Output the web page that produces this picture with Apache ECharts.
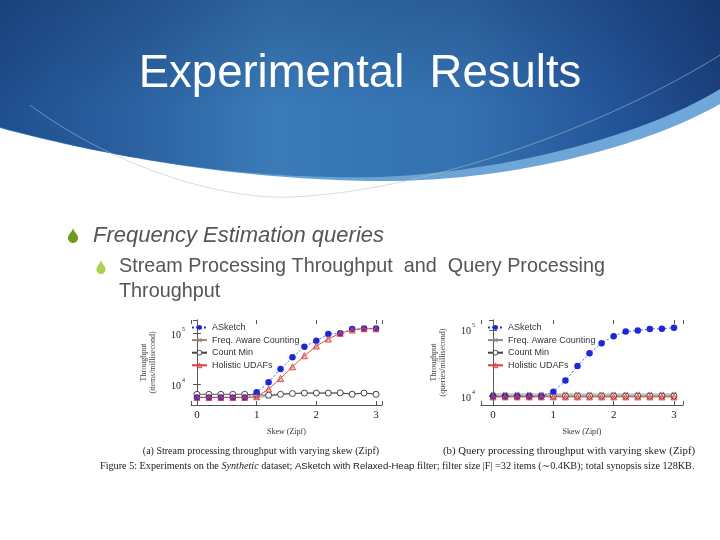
<!DOCTYPE html>
<html>
<head>
<meta charset="utf-8">
<script src="https://cdn.jsdelivr.net/npm/echarts@6/dist/echarts.min.js"></script>
<style>html,body{margin:0;padding:0;background:#fff}#c{width:720px;height:540px}</style>
</head>
<body>
<div id="c"></div>
<script>
// ---- data ----
const skew = [0, 0.2, 0.4, 0.6, 0.8, 1.0, 1.2, 1.4, 1.6, 1.8, 2.0, 2.2, 2.4, 2.6, 2.8, 3.0];
const seriesNames = ['ASketch', 'Freq. Aware Counting', 'Count Min', 'Holistic UDAFs'];
// (a) stream processing throughput (items/millisecond)
const aSketchA  = [5450, 5450, 5450, 5450, 5450, 6850, 10800, 19800, 33600, 54400, 71500, 96800, 100000, 121000, 125000, 125000];
const freqA     = [5450, 5450, 5450, 5450, 5450, 5500, 5700, 6200, 6500, 6600, 6600, 6600, 6600, 6500, 6600, 6500];
const countMinA = [6270, 6270, 6270, 6270, 6270, 6100, 6030, 6270, 6500, 6650, 6650, 6650, 6700, 6270, 6650, 6270];
const holisticA = [5450, 5450, 5450, 5450, 5450, 5600, 7960, 12900, 21900, 36100, 56200, 77300, 100000, 116000, 123000, 123000];
// (b) query processing throughput (queries/millisecond)
const aSketchB  = [9800, 9800, 9800, 9800, 9800, 11600, 17100, 28500, 44400, 62900, 80100, 94400, 97800, 103000, 104000, 108000];
const freqB     = [10700, 10700, 10700, 10700, 10700, 10700, 10700, 10700, 10700, 10700, 10700, 10700, 10700, 10700, 10700, 10700];
const countMinB = [10000, 10000, 10000, 10000, 10000, 10000, 10000, 10000, 10000, 10000, 10000, 10000, 10000, 10000, 10000, 10000];
const holisticB = [9700, 9700, 9700, 9700, 9700, 9700, 9700, 9700, 9700, 9700, 9700, 9700, 9700, 9700, 9700, 9700];
const xTickLabels = ['0', '1', '2', '3'];

const SERIF = '"Liberation Serif","DejaVu Serif",serif';
const SANS = '"Liberation Sans",Arial,sans-serif';

const chart = echarts.init(document.getElementById('c'), null, {renderer: 'canvas'});

function pairs(vals) { return skew.map((x, i) => [x, vals[i]]); }

const CROSS = 'path://M0,1.2L1.2,0L5,3.8L8.8,0L10,1.2L6.2,5L10,8.8L8.8,10L5,6.2L1.2,10L0,8.8L3.8,5Z';

const seriesStyle = {
  'ASketch': {symbol: 'circle', symbolSize: 6.5, z: 3,
    lineStyle: {color: '#2a36d6', width: 0.8, type: [2, 2]},
    itemStyle: {color: '#1c28d8'}},
  'Freq. Aware Counting': {symbol: CROSS, symbolSize: 5, z: 2,
    lineStyle: {color: '#9a8672', width: 0.9, type: 'solid'},
    itemStyle: {color: '#8c7b6b'}},
  'Count Min': {symbol: 'circle', symbolSize: 6, z: 2,
    lineStyle: {color: '#444', width: 0.9, type: 'solid'},
    itemStyle: {color: '#ffffff', borderColor: '#333', borderWidth: 0.9}},
  'Holistic UDAFs': {symbol: 'triangle', symbolSize: 6, z: 4,
    lineStyle: {color: '#d6403c', width: 0.9, type: 'solid'},
    itemStyle: {color: 'rgba(214,64,60,0.3)', borderColor: '#d6403c', borderWidth: 0.9}}
};

function makeSeries(name, vals, idx) {
  return Object.assign({
    name: name, type: 'line', xAxisIndex: idx * 2, yAxisIndex: idx * 2,
    data: pairs(vals), showSymbol: true, animation: false
  }, seriesStyle[name]);
}

function logLabel(v) {
  const l = Math.log10(v);
  const e = Math.round(l);
  if (Math.abs(l - e) > 1e-6) return '';
  return '{b|10}{s|' + e + '}';
}

function xAxes(gi, min, max) {
  return [
    {type: 'value', gridIndex: gi, min: min, max: max, splitNumber: 3, position: 'bottom',
     axisLine: {show: true, onZero: false, lineStyle: {color: '#555', width: 1}},
     axisTick: {show: true, inside: true, length: 4, lineStyle: {color: '#555'}},
     axisLabel: {show: true, margin: 5, color: '#222', fontFamily: SERIF, fontSize: 11,
       formatter: v => (Math.abs(v - Math.round(v)) < 1e-6 && v >= 0 && v <= 3) ? xTickLabels[Math.round(v)] : ''},
     splitLine: {show: false},
     name: 'Skew (Zipf)', nameLocation: 'middle', nameGap: 23,
     nameTextStyle: {fontFamily: SERIF, fontSize: 8, color: '#333'}},
    {type: 'value', gridIndex: gi, min: min, max: max, splitNumber: 3, position: 'top',
     axisLine: {show: false},
     axisTick: {show: true, inside: true, length: 4, lineStyle: {color: '#555'}},
     axisLabel: {show: false}, splitLine: {show: false}}
  ];
}

function yAxes(gi, min, max, name) {
  const rich = {
    b: {fontFamily: SERIF, fontSize: 10, color: '#222', lineHeight: 14, verticalAlign: 'bottom'},
    s: {fontFamily: SERIF, fontSize: 6, color: '#222', lineHeight: 14, verticalAlign: 'top', padding: [0, 0, 5, 1]}
  };
  return [
    {type: 'log', logBase: 10, gridIndex: gi, min: min, max: max, position: 'left',
     axisLine: {show: true, lineStyle: {color: '#555', width: 1}},
     axisTick: {show: true, inside: true, length: 4, lineStyle: {color: '#555'}},
     axisLabel: {show: true, margin: 6, formatter: logLabel, rich: rich, showMinLabel: false, showMaxLabel: false},
     splitLine: {show: false},
     name: name, nameLocation: 'middle', nameGap: 34,
     nameTextStyle: {fontFamily: SERIF, fontSize: 8, color: '#444', lineHeight: 9}},
    {type: 'log', logBase: 10, gridIndex: gi, min: min, max: max, position: 'right',
     axisLine: {show: true, lineStyle: {color: '#555', width: 1}},
     axisTick: {show: true, inside: true, length: 4, lineStyle: {color: '#555'}},
     axisLabel: {show: false}, splitLine: {show: false}}
  ];
}

const legendData = seriesNames.map(n => ({name: n, itemStyle: seriesStyle[n].itemStyle}));
const legendCommon = {
  orient: 'vertical', itemWidth: 15, itemHeight: 6, itemGap: 3.6, padding: 0,
  textStyle: {fontFamily: SANS, fontSize: 9, color: '#333'},
  data: legendData, selectedMode: false
};

// decorative geometry helpers (sampled bezier curves)
function cubic(p0, p1, p2, p3, n) {
  const pts = [];
  for (let i = 0; i <= n; i++) {
    const t = i / n, u = 1 - t;
    pts.push([u*u*u*p0[0] + 3*u*u*t*p1[0] + 3*u*t*t*p2[0] + t*t*t*p3[0],
              u*u*u*p0[1] + 3*u*u*t*p1[1] + 3*u*t*t*p2[1] + t*t*t*p3[1]]);
  }
  return pts;
}
function headerShape(yRight, c1, c2, mid, c3, c4, yLeft) {
  return [[0, 0], [720, 0]].concat(cubic([720, yRight], c1, c2, mid, 40), cubic(mid, c3, c4, [0, yLeft], 40));
}
function dropPts(cx, top, h, w) {
  const r = w / 2, cy = top + h - r;
  let pts = cubic([cx, top], [cx + w * 0.1, top + h * 0.3], [cx + r, cy - r * 0.8], [cx + r, cy], 12);
  for (let i = 1; i < 16; i++) { const a = Math.PI * i / 16; pts.push([cx + r * Math.cos(a), cy + r * Math.sin(a)]); }
  pts = pts.concat(cubic([cx - r, cy], [cx - r, cy - r * 0.8], [cx - w * 0.1, top + h * 0.3], [cx, top], 12));
  return pts;
}

const lightPts = headerShape(104, [640, 150], [500, 182], [380, 181], [250, 180], [120, 160], 128);
const darkPts  = headerShape(89, [640, 138], [500, 172], [380, 177], [250, 180], [120, 160], 127);
const arcPts = cubic([30, 105], [110, 165], [220, 200], [290, 197], 40).concat(cubic([290, 197], [420, 192], [600, 130], [720, 55], 50));

const LG = echarts.graphic.LinearGradient;

const option = {
  backgroundColor: '#ffffff',
  animation: false,
  grid: [
    {left: 191, top: 320, width: 191, height: 85, containLabel: false},
    {left: 481, top: 320, width: 202, height: 85, containLabel: false}
  ],
  xAxis: [...xAxes(0, -0.1, 3.1), ...xAxes(1, -0.2, 3.15)],
  yAxis: [...yAxes(0, 3860, 183000, 'Throughput\n(items/millisecond)'),
          ...yAxes(1, 7310, 141000, 'Throughput\n(queries/millisecond)')],
  legend: [
    Object.assign({left: 191, top: 323}, legendCommon),
    Object.assign({left: 487, top: 323}, legendCommon)
  ],
  series: [
    makeSeries('Freq. Aware Counting', freqA, 0),
    makeSeries('Count Min', countMinA, 0),
    makeSeries('ASketch', aSketchA, 0),
    makeSeries('Holistic UDAFs', holisticA, 0),
    makeSeries('Freq. Aware Counting', freqB, 1),
    makeSeries('Count Min', countMinB, 1),
    makeSeries('ASketch', aSketchB, 1),
    makeSeries('Holistic UDAFs', holisticB, 1)
  ],
  graphic: [
    {type: 'polygon', z: -10, silent: true, shape: {points: lightPts},
     style: {fill: new LG(0, 0, 1, 0, [
       {offset: 0, color: '#3f78b4'}, {offset: 0.4, color: '#6aa2d3'}, {offset: 1, color: '#6fa8d9'}])}},
    {type: 'polygon', z: -9, silent: true, shape: {points: darkPts},
     style: {fill: new LG(0, 0, 1, 0, [
       {offset: 0, color: '#1f4e8e'}, {offset: 0.2, color: '#2c63a3'}, {offset: 0.38, color: '#3a7bb8'},
       {offset: 0.5, color: '#3676b4'}, {offset: 0.65, color: '#3471b0'}, {offset: 0.85, color: '#24559a'},
       {offset: 1, color: '#1b407e'}])}},
    {type: 'polygon', z: -8, silent: true, shape: {points: darkPts},
     style: {fill: new LG(0, 0, 0, 1, [
       {offset: 0, color: 'rgba(10,30,70,0.25)'}, {offset: 0.6, color: 'rgba(10,30,70,0)'}, {offset: 1, color: 'rgba(10,30,70,0)'}])}},
    {type: 'polyline', z: -7, silent: true, shape: {points: arcPts},
     style: {fill: null, stroke: 'rgba(185,190,200,0.7)', lineWidth: 0.8}},
    {type: 'text', z: 10, silent: true, x: 360, y: 74,
     style: {text: 'Experimental  Results', fill: '#ffffff', fontSize: 45.5, fontFamily: SANS,
       align: 'center', verticalAlign: 'middle'}},
    {type: 'polygon', z: 10, silent: true, shape: {points: dropPts(73, 228, 15, 10)}, style: {fill: '#6e9a1e'}},
    {type: 'text', z: 10, silent: true, x: 93, y: 236,
     style: {text: 'Frequency Estimation queries', fill: '#555555', fontSize: 22, fontStyle: 'italic',
       fontFamily: SANS, align: 'left', verticalAlign: 'middle'}},
    {type: 'polygon', z: 10, silent: true, shape: {points: dropPts(101, 260, 14, 9)}, style: {fill: '#a8d44c'}},
    {type: 'text', z: 10, silent: true, x: 119, y: 267,
     style: {text: 'Stream Processing Throughput  and  Query Processing', fill: '#555555', fontSize: 19.8,
       fontFamily: SANS, align: 'left', verticalAlign: 'middle'}},
    {type: 'text', z: 10, silent: true, x: 119, y: 292,
     style: {text: 'Throughput', fill: '#555555', fontSize: 19.8,
       fontFamily: SANS, align: 'left', verticalAlign: 'middle'}},
    {type: 'text', z: 10, silent: true, x: 261, y: 451,
     style: {text: '(a) Stream processing throughput with varying skew (Zipf)', fill: '#222', fontSize: 10,
       fontFamily: SERIF, align: 'center', verticalAlign: 'middle'}},
    {type: 'text', z: 10, silent: true, x: 569, y: 451,
     style: {text: '(b) Query processing throughput with varying skew (Zipf)', fill: '#222', fontSize: 10.8,
       fontFamily: SERIF, align: 'center', verticalAlign: 'middle'}},
    {type: 'text', z: 10, silent: true, x: 100, y: 466,
     style: {text: '{r|Figure 5: Experiments on the }{i|Synthetic}{r| dataset; }{s|ASketch with Relaxed-Heap}{r| filter; filter size |F| =32 items (∼0.4KB); total synopsis size 128KB.}',
       fill: '#222', fontSize: 10.2, fontFamily: SERIF, align: 'left', verticalAlign: 'middle',
       rich: {r: {fontSize: 10.2, fontFamily: SERIF, fill: '#222'},
              i: {fontSize: 10.2, fontFamily: SERIF, fontStyle: 'italic', fill: '#222'},
              s: {fontSize: 9.6, fontFamily: SANS, fill: '#222'}}}}
  ]
};
chart.setOption(option);
</script>
</body>
</html>
